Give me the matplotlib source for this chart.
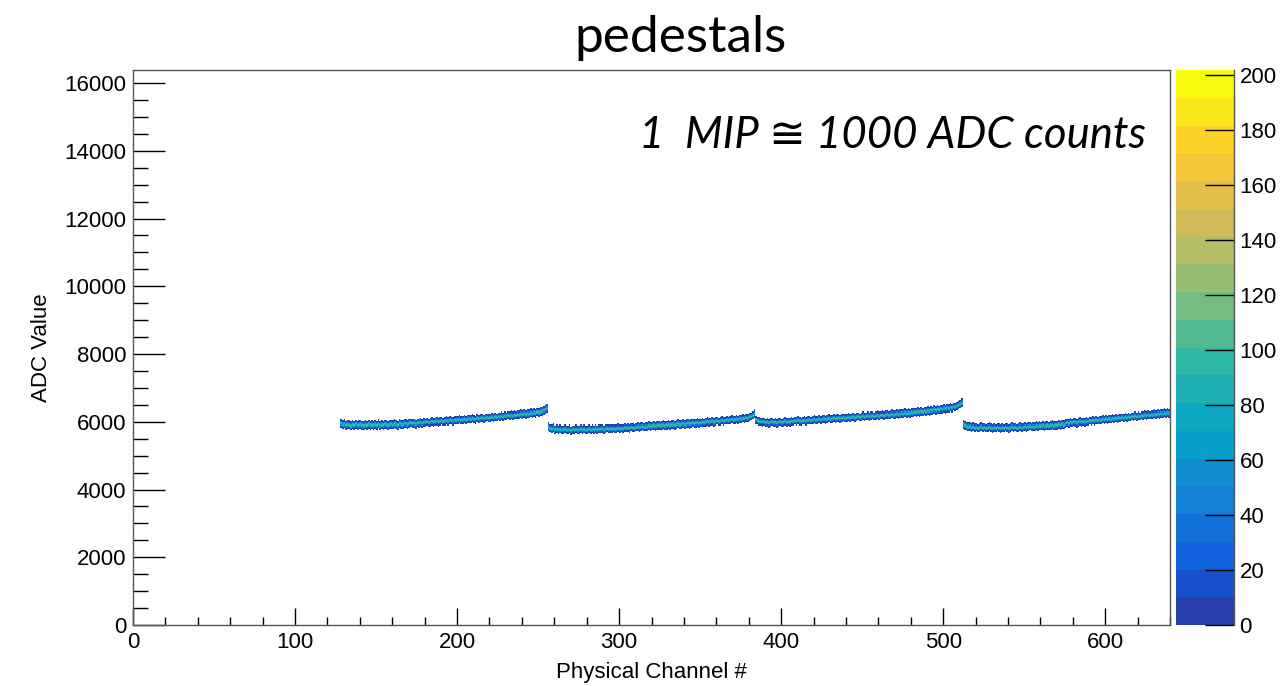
import numpy as np
import matplotlib
matplotlib.use("Agg")
import matplotlib.pyplot as plt
from matplotlib.colors import LinearSegmentedColormap, ListedColormap, BoundaryNorm
from matplotlib.ticker import MultipleLocator

# ---------------- data ----------------
N_CHANNELS = 640
ADC_MAX = 16384
Y_BIN_WIDTH = 32
FIRST_CHANNEL = 128
Z_MAX = 202

# pedestal (ADC) per physical channel, channels 128..255
PEDESTAL_SEG1 = [
    5950, 5920, 5940, 5900, 5930, 5910, 5880, 5920, 5900, 5930, 5890, 5910, 5930, 5900, 5880, 5910,
    5900, 5930, 5890, 5910, 5880, 5920, 5900, 5940, 5890, 5910, 5900, 5930, 5910, 5890, 5920, 5930,
    5910, 5940, 5920, 5900, 5950, 5930, 5920, 5960, 5940, 5920, 5950, 5970, 5940, 5960, 5930, 5970,
    5960, 5990, 5950, 5980, 5970, 6000, 5970, 5990, 6010, 5980, 6000, 6020, 5990, 6010, 6030, 6000,
    6020, 6040, 6010, 6050, 6030, 6020, 6060, 6040, 6050, 6070, 6040, 6060, 6080, 6050, 6070, 6090,
    6070, 6100, 6080, 6060, 6110, 6090, 6100, 6120, 6090, 6110, 6130, 6100, 6120, 6140, 6110, 6150,
    6130, 6160, 6140, 6170, 6150, 6180, 6160, 6190, 6170, 6200, 6180, 6210, 6190, 6220, 6200, 6230,
    6210, 6240, 6220, 6250, 6230, 6260, 6240, 6270, 6250, 6290, 6270, 6300, 6310, 6340, 6360, 6390,
]
# channels 256..383
PEDESTAL_SEG2 = [
    5850, 5810, 5790, 5820, 5770, 5790, 5760, 5780, 5750, 5770, 5790, 5750, 5760, 5780, 5740, 5770,
    5760, 5780, 5750, 5770, 5790, 5760, 5780, 5750, 5770, 5790, 5760, 5780, 5770, 5800, 5770, 5790,
    5780, 5800, 5770, 5790, 5810, 5780, 5800, 5790, 5810, 5780, 5800, 5820, 5790, 5810, 5800, 5830,
    5810, 5830, 5800, 5840, 5820, 5810, 5840, 5860, 5830, 5850, 5870, 5840, 5860, 5850, 5880, 5860,
    5870, 5890, 5860, 5880, 5900, 5870, 5890, 5910, 5880, 5900, 5920, 5890, 5910, 5930, 5900, 5920,
    5940, 5910, 5930, 5950, 5920, 5940, 5960, 5930, 5950, 5970, 5940, 5960, 5980, 5950, 5970, 5990,
    5970, 5990, 6010, 5980, 6000, 6020, 5990, 6010, 6030, 6000, 6020, 6040, 6010, 6030, 6050, 6030,
    6050, 6070, 6040, 6060, 6080, 6060, 6090, 6070, 6100, 6090, 6120, 6110, 6140, 6160, 6190, 6230,
]
# channels 384..511
PEDESTAL_SEG3 = [
    6060, 6030, 6010, 6000, 5980, 6000, 5970, 5990, 5960, 5980, 6000, 5970, 5990, 5960, 5980, 6000,
    5970, 5990, 6010, 5980, 6000, 5990, 6020, 6000, 6030, 6010, 6040, 6020, 6000, 6030, 6050, 6020,
    6040, 6060, 6030, 6050, 6070, 6040, 6060, 6080, 6050, 6070, 6090, 6060, 6080, 6100, 6070, 6090,
    6110, 6080, 6100, 6120, 6090, 6110, 6130, 6100, 6120, 6140, 6110, 6130, 6150, 6120, 6140, 6160,
    6130, 6150, 6170, 6140, 6160, 6180, 6150, 6170, 6190, 6160, 6180, 6200, 6170, 6190, 6210, 6180,
    6200, 6220, 6190, 6210, 6230, 6200, 6220, 6240, 6210, 6230, 6250, 6230, 6260, 6240, 6270, 6250,
    6280, 6260, 6290, 6270, 6300, 6280, 6310, 6290, 6320, 6300, 6330, 6310, 6340, 6320, 6360, 6340,
    6370, 6350, 6380, 6360, 6400, 6380, 6410, 6390, 6430, 6410, 6450, 6430, 6470, 6490, 6520, 6560,
]
# channels 512..639
PEDESTAL_SEG4 = [
    5930, 5890, 5870, 5850, 5860, 5830, 5850, 5820, 5840, 5810, 5830, 5850, 5820, 5840, 5810, 5830,
    5850, 5820, 5800, 5830, 5810, 5840, 5820, 5800, 5830, 5810, 5840, 5820, 5800, 5830, 5850, 5820,
    5840, 5810, 5830, 5850, 5820, 5840, 5860, 5830, 5850, 5870, 5840, 5860, 5850, 5880, 5860, 5880,
    5870, 5890, 5860, 5880, 5900, 5870, 5890, 5910, 5880, 5900, 5890, 5920, 5900, 5930, 5910, 5940,
    5970, 5950, 5990, 5970, 6000, 5980, 5960, 5990, 6010, 5980, 6000, 5990, 6020, 6000, 6030, 6010,
    6040, 6020, 6050, 6030, 6060, 6040, 6070, 6050, 6080, 6060, 6090, 6070, 6100, 6080, 6110, 6090,
    6120, 6100, 6130, 6110, 6140, 6120, 6150, 6130, 6160, 6140, 6170, 6150, 6180, 6160, 6190, 6170,
    6200, 6180, 6210, 6190, 6220, 6200, 6230, 6210, 6240, 6220, 6250, 6230, 6260, 6240, 6270, 6250,
]
# entries per ADC bin around the pedestal (offsets -3 .. +3 bins)
COUNT_PROFILE = [6, 28, 75, 105, 75, 28, 6]

X_TICKS = list(range(0, 601, 100))
Y_TICKS = list(range(0, 16001, 2000))
Z_TICKS = list(range(0, 201, 20))

TITLE = "pedestals"
NOTE = "1  MIP \u2245 1000 ADC counts"
X_LABEL = "Physical Channel #"
Y_LABEL = "ADC Value"

# ---------------- build 2D histogram ----------------
pedestals = PEDESTAL_SEG1 + PEDESTAL_SEG2 + PEDESTAL_SEG3 + PEDESTAL_SEG4
channels = np.arange(FIRST_CHANNEL, FIRST_CHANNEL + len(pedestals))
n_ybins = ADC_MAX // Y_BIN_WIDTH
H = np.zeros((n_ybins, N_CHANNELS))
half = len(COUNT_PROFILE) // 2
for ch, ped in zip(channels, pedestals):
    f = ped / Y_BIN_WIDTH - 0.5
    b0 = int(np.floor(f))
    w = f - b0
    for k, c in enumerate(COUNT_PROFILE):
        b = b0 + k - half
        H[b, ch] += c * (1 - w)
        H[b + 1, ch] += c * w
Hm = np.ma.masked_where(H <= 0.5, H)

# ROOT kBird palette, 20 contour levels
stops = [0.0, 0.125, 0.25, 0.375, 0.5, 0.625, 0.75, 0.875, 1.0]
red = [0.2082, 0.0592, 0.0780, 0.0232, 0.1802, 0.5301, 0.8186, 0.9956, 0.9764]
green = [0.1664, 0.3599, 0.5041, 0.6419, 0.7178, 0.7492, 0.7328, 0.7862, 0.9832]
blue = [0.5293, 0.8684, 0.8385, 0.7914, 0.6425, 0.4662, 0.3499, 0.1968, 0.0539]
bird = LinearSegmentedColormap.from_list(
    "bird", list(zip(stops, zip(red, green, blue))), N=255)
ndiv = 20
cmap = ListedColormap([bird((i + 0.99) / ndiv) for i in range(ndiv)])
norm = BoundaryNorm(np.linspace(0, Z_MAX, ndiv + 1), ndiv)

# ---------------- figure ----------------
W, Hpx = 1283, 686
fig = plt.figure(figsize=(W / 100, Hpx / 100), dpi=100)
fig.patch.set_facecolor("white")
L, R, T, B = 133, 1170, 70, 625
ax = fig.add_axes([L / W, 1 - B / Hpx, (R - L) / W, (B - T) / Hpx])

im = ax.imshow(Hm, origin="lower", extent=[0, N_CHANNELS, 0, ADC_MAX],
               aspect="auto", cmap=cmap, norm=norm, interpolation="nearest")
ax.set_xlim(0, N_CHANNELS)
ax.set_ylim(0, ADC_MAX)

ax.set_xticks(X_TICKS)
ax.set_yticks(Y_TICKS)
ax.xaxis.set_minor_locator(MultipleLocator(20))
ax.yaxis.set_minor_locator(MultipleLocator(500))
ax.tick_params(axis="x", which="major", direction="in", length=12.2, width=1,
               top=False, pad=5, labelsize=16)
ax.tick_params(axis="x", which="minor", direction="in", length=5.8, width=1, top=False)
ax.tick_params(axis="y", which="major", direction="in", length=23, width=1,
               right=False, pad=5, labelsize=16)
ax.tick_params(axis="y", which="minor", direction="in", length=10.8, width=1, right=False)
for lab in ax.get_xticklabels() + ax.get_yticklabels():
    lab.set_family("Liberation Sans")
for sp in ax.spines.values():
    sp.set_color("#555555")
    sp.set_linewidth(1.0)

ax.set_xlabel(X_LABEL, fontsize=16, family="Liberation Sans")
ax.xaxis.set_label_coords(0.5, -0.066)
ax.set_ylabel(Y_LABEL, fontsize=16, family="Liberation Sans")
ax.yaxis.set_label_coords(-0.078, 0.5)

# colorbar
cax = fig.add_axes([1176 / W, 1 - B / Hpx, 58 / W, (B - T) / Hpx])
cb = fig.colorbar(im, cax=cax, ticks=Z_TICKS)
cb.outline.set_visible(False)
cax.minorticks_off()
cax.tick_params(axis="y", which="major", direction="in", length=21, width=1,
                right=True, left=False, labelsize=16, pad=4, color="black")
for lab in cax.get_yticklabels():
    lab.set_family("Liberation Sans")
cax.plot([1, 1], [0, 1], transform=cax.transAxes, color="#555555", lw=1, clip_on=False)

# title and note
fig.text(681 / W, 1 - 38 / Hpx, TITLE, ha="center", va="center",
         fontsize=37, family="Lato")
fig.text(1146 / W, 1 - 135 / Hpx, NOTE, ha="right", va="center",
         fontsize=31.5, style="italic", family=["Lato", "DejaVu Sans"])

fig.savefig("out.png", dpi=100, facecolor="white")
